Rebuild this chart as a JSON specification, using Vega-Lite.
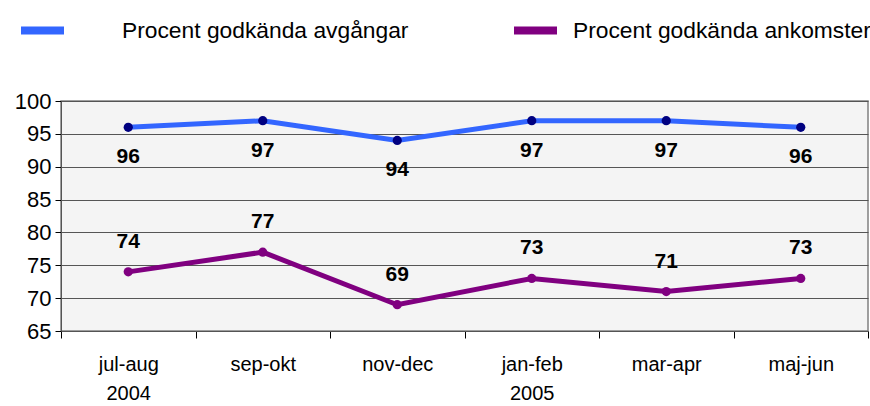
{
  "$schema": "https://vega.github.io/schema/vega-lite/v6.json",
  "width": 807,
  "height": 230,
  "autosize": "none",
  "padding": {"left": 61, "top": 101, "right": 2, "bottom": 75},
  "background": "white",
  "config": {
    "view": {"fill": "#f4f4f4", "stroke": "#808080", "strokeWidth": 1.5},
    "font": "Liberation Sans"
  },
  "data": {
    "values": [
      {"period": "jul-aug 2004", "series": "Procent godkända avgångar", "value": 96},
      {"period": "sep-okt", "series": "Procent godkända avgångar", "value": 97},
      {"period": "nov-dec", "series": "Procent godkända avgångar", "value": 94},
      {"period": "jan-feb 2005", "series": "Procent godkända avgångar", "value": 97},
      {"period": "mar-apr", "series": "Procent godkända avgångar", "value": 97},
      {"period": "maj-jun", "series": "Procent godkända avgångar", "value": 96},
      {"period": "jul-aug 2004", "series": "Procent godkända ankomster", "value": 74},
      {"period": "sep-okt", "series": "Procent godkända ankomster", "value": 77},
      {"period": "nov-dec", "series": "Procent godkända ankomster", "value": 69},
      {"period": "jan-feb 2005", "series": "Procent godkända ankomster", "value": 73},
      {"period": "mar-apr", "series": "Procent godkända ankomster", "value": 71},
      {"period": "maj-jun", "series": "Procent godkända ankomster", "value": 73}
    ]
  },
  "encoding": {
    "x": {
      "field": "period",
      "type": "nominal",
      "sort": null,
      "scale": {"type": "band", "paddingInner": 0, "paddingOuter": 0},
      "axis": {
        "title": null,
        "labelAngle": 0,
        "labelExpr": "split(datum.label, ' ')",
        "labelFontSize": 20,
        "labelLineHeight": 29,
        "labelColor": "#000",
        "labelPadding": 16,
        "tickBand": "extent",
        "tickSize": 7,
        "tickColor": "#000",
        "domainColor": "#555",
        "grid": false
      }
    },
    "y": {
      "field": "value",
      "type": "quantitative",
      "scale": {"domain": [65, 100], "nice": false, "zero": false},
      "axis": {
        "title": null,
        "values": [65, 70, 75, 80, 85, 90, 95, 100],
        "labelFontSize": 22,
        "labelColor": "#000",
        "labelPadding": 4,
        "tickSize": 6,
        "tickColor": "#000",
        "domainColor": "#555",
        "grid": true,
        "gridColor": "#555",
        "gridWidth": 1
      }
    }
  },
  "layer": [
    {
      "transform": [{"filter": "datum.series === 'Procent godkända avgångar'"}],
      "mark": {"type": "line", "strokeWidth": 5},
      "encoding": {
        "color": {
          "field": "series",
          "type": "nominal",
          "scale": {"domain": ["Procent godkända avgångar"], "range": ["#3366ff"]},
          "legend": {
            "title": null,
            "orient": "none",
            "legendX": -44,
            "legendY": -96,
            "symbolType": "stroke",
            "symbolSize": 1849,
            "symbolStrokeWidth": 8,
            "labelFontSize": 22.8,
            "labelLimit": 0,
            "labelColor": "#000",
            "labelOffset": 54,
            "padding": 0
          }
        }
      }
    },
    {
      "transform": [{"filter": "datum.series === 'Procent godkända ankomster'"}],
      "mark": {"type": "line", "strokeWidth": 5},
      "encoding": {
        "color": {
          "field": "series",
          "type": "nominal",
          "scale": {"domain": ["Procent godkända ankomster"], "range": ["#800080"]},
          "legend": {
            "title": null,
            "orient": "none",
            "legendX": 449,
            "legendY": -96,
            "symbolType": "stroke",
            "symbolSize": 1849,
            "symbolStrokeWidth": 8,
            "labelFontSize": 22.8,
            "labelLimit": 0,
            "labelColor": "#000",
            "labelOffset": 12,
            "padding": 0
          }
        }
      }
    },
    {
      "transform": [{"filter": "datum.series === 'Procent godkända avgångar'"}],
      "mark": {"type": "point", "filled": true, "size": 85, "color": "#000080", "opacity": 1},
      "encoding": {}
    },
    {
      "transform": [{"filter": "datum.series === 'Procent godkända ankomster'"}],
      "mark": {"type": "point", "filled": true, "size": 85, "color": "#800080", "opacity": 1},
      "encoding": {}
    },
    {
      "transform": [{"filter": "datum.series === 'Procent godkända avgångar'"}],
      "mark": {"type": "text", "dy": 30, "fontSize": 21, "fontWeight": "bold", "color": "#000"},
      "encoding": {"text": {"field": "value", "type": "quantitative"}}
    },
    {
      "transform": [{"filter": "datum.series === 'Procent godkända ankomster'"}],
      "mark": {"type": "text", "dy": -30, "fontSize": 21, "fontWeight": "bold", "color": "#000"},
      "encoding": {"text": {"field": "value", "type": "quantitative"}}
    }
  ],
  "resolve": {"scale": {"color": "independent"}, "legend": {"color": "independent"}}
}
